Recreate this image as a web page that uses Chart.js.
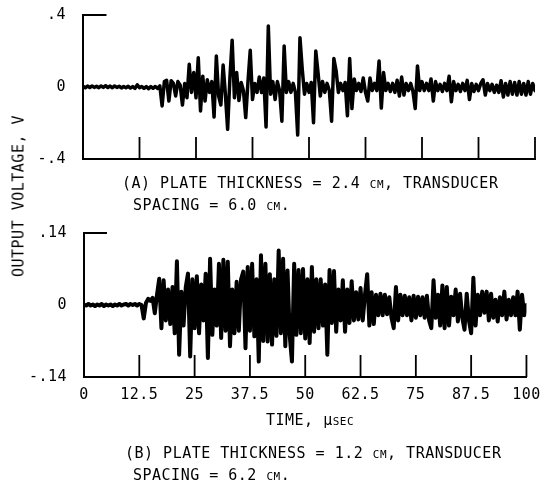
<!DOCTYPE html>
<html>
<head>
<meta charset="utf-8">
<script src="https://cdn.jsdelivr.net/npm/chart.js@4"></script>
<style>
html,body{margin:0;padding:0;background:#fff;}
#wrap{position:relative;width:549px;height:485px;overflow:hidden;background:#fff;}
canvas{position:absolute;left:0;top:0;}
.txt{position:absolute;font-family:"DejaVu Sans Mono",monospace;font-size:15px;line-height:15px;color:#000;white-space:nowrap;letter-spacing:0.5px;}
.sc{font-variant:small-caps;}
#ytitle{left:19px;top:196px;transform:translate(-50%,-50%) rotate(-90deg);}
#xtitle{left:310px;top:413px;transform:translateX(-50%);}
</style>
</head>
<body>
<div id="wrap">
<canvas id="cA" width="549" height="485"></canvas>
<canvas id="cB" width="549" height="485"></canvas>
<div class="txt" id="ytitle">OUTPUT VOLTAGE, V</div>
<div class="txt" style="left:122px;top:176px;">(A) PLATE THICKNESS = 2.4 <span class="sc">cm</span>, TRANSDUCER</div>
<div class="txt" style="left:133px;top:198px;">SPACING = 6.0 <span class="sc">cm</span>.</div>
<div class="txt" id="xtitle">TIME, µ<span class="sc">sec</span></div>
<div class="txt" style="left:125px;top:446px;">(B) PLATE THICKNESS = 1.2 <span class="sc">cm</span>, TRANSDUCER</div>
<div class="txt" style="left:133px;top:468px;">SPACING = 6.2 <span class="sc">cm</span>.</div>
</div>
<script>
// ---- data ----
const sampleStep = 0.5; // microseconds between samples
// Panel A: plate thickness 2.4 cm, output voltage (V)
const voltA = [
 0.004,-0.004,0.005,-0.003,0.006,-0.002,0.004,-0.004,0.006,-0.002,
 0.007,-0.003,0.005,-0.004,0.006,-0.002,0.004,-0.005,0.003,-0.004,
 0.004,-0.006,0.002,-0.008,0.012,-0.004,0.003,-0.008,0.002,-0.009,
 0.002,-0.007,0.003,-0.008,0.006,-0.105,0.030,0.037,-0.078,0.035,
 0.020,-0.050,0.030,0.010,-0.100,0.020,-0.060,0.126,-0.030,0.080,
 -0.060,0.163,-0.133,0.060,-0.078,0.040,-0.030,0.030,-0.167,0.172,
 -0.050,-0.100,0.122,-0.040,-0.235,0.050,0.260,-0.060,0.080,-0.075,
 0.025,-0.020,-0.170,0.030,0.204,-0.070,0.020,-0.030,0.055,-0.030,
 0.050,-0.222,0.339,-0.040,0.030,-0.070,0.030,-0.020,-0.190,0.228,
 -0.030,0.030,-0.030,0.020,-0.030,-0.267,0.274,0.100,-0.040,0.020,
 -0.030,0.025,-0.198,0.200,0.080,-0.050,0.030,-0.030,0.020,-0.020,
 -0.190,0.158,0.090,-0.030,0.020,-0.020,0.025,-0.160,0.158,-0.120,
 0.045,-0.020,0.020,-0.025,0.050,-0.030,-0.078,0.050,-0.020,0.020,
 -0.020,0.144,-0.117,0.080,-0.020,0.020,-0.025,0.020,-0.030,0.037,
 -0.050,0.055,-0.045,0.020,-0.020,0.020,-0.025,-0.119,0.117,-0.020,
 0.030,-0.020,0.020,-0.020,0.045,-0.078,0.030,-0.020,0.015,-0.025,
 0.020,-0.020,0.060,-0.082,0.030,-0.020,0.015,-0.025,0.020,-0.020,
 0.037,-0.070,0.020,-0.025,0.015,-0.020,0.020,0.040,-0.045,0.020,
 -0.020,0.015,-0.030,0.010,-0.030,0.035,-0.055,0.020,-0.045,0.030,
 -0.040,0.025,-0.045,0.030,-0.040,0.020,-0.045,0.030,-0.040,0.020,
 -0.020
];
// Panel B: plate thickness 1.2 cm, output voltage (V)
const voltB = [
 0.001,-0.001,0.002,-0.001,0.001,-0.002,0.001,-0.001,0.002,-0.002,
 0.001,-0.001,0.001,-0.002,0.001,-0.001,0.002,-0.001,0.001,0.002,
 -0.001,0.002,0.000,0.002,-0.001,0.002,0.000,-0.026,0.004,0.012,
 0.008,0.014,-0.016,0.020,0.051,-0.045,0.048,-0.030,0.030,-0.037,
 0.035,-0.055,0.085,-0.0965,0.026,-0.040,0.035,0.061,-0.100,0.050,
 -0.045,0.056,-0.055,0.040,-0.030,0.061,-0.103,0.090,-0.058,0.030,
 -0.040,0.080,-0.064,0.088,-0.050,0.084,-0.080,0.030,-0.055,0.045,
 -0.050,0.050,0.065,-0.084,0.074,-0.050,0.080,-0.061,0.050,-0.110,
 0.0965,-0.070,0.080,-0.071,0.060,-0.077,0.050,-0.060,0.106,-0.055,
 0.090,-0.080,0.067,-0.060,-0.110,0.080,-0.058,0.068,-0.055,0.070,
 -0.065,0.050,-0.074,0.074,-0.052,0.050,-0.045,0.050,-0.040,0.040,
 -0.0965,0.068,-0.035,0.066,-0.052,0.030,-0.030,0.048,-0.052,0.030,
 -0.035,0.046,-0.030,0.025,-0.028,0.033,-0.030,0.020,0.060,-0.040,
 0.025,-0.037,0.020,-0.020,0.022,-0.020,0.020,-0.018,0.015,-0.025,
 -0.045,0.035,-0.030,0.020,-0.020,0.018,-0.020,0.015,-0.030,0.018,
 -0.025,0.016,-0.020,0.015,-0.025,0.018,-0.030,-0.045,0.048,-0.025,
 0.020,-0.040,0.038,-0.045,0.035,-0.040,0.016,-0.020,0.030,-0.032,
 0.022,-0.025,-0.048,0.022,-0.030,-0.055,0.053,-0.040,0.020,-0.020,
 0.026,-0.015,0.026,-0.030,0.022,-0.025,0.010,-0.032,0.015,-0.020,
 0.026,-0.028,0.010,-0.020,0.015,-0.020,0.026,-0.048,0.020,-0.020,
 0.000
];
const xTickValues = [0, 12.5, 25, 37.5, 50, 62.5, 75, 87.5, 100];
const xTickLabels = ['0', '12.5', '25', '37.5', '50', '62.5', '75', '87.5', '100'];
const yTicksA = [-0.4, 0, 0.4];
const yLabelsA = ['-.4', '0', '.4'];
const yTicksB = [-0.14, 0, 0.14];
const yLabelsB = ['-.14', '0', '.14'];

// ---- drawing ----
Chart.defaults.color = '#000';
Chart.defaults.font.family = '"DejaVu Sans Mono", monospace';
Chart.defaults.font.size = 15;

const frameMarks = {
  id: 'frameMarks',
  beforeDraw(chart) { try { chart.ctx.letterSpacing = '0.5px'; } catch (e) {} },
  afterDatasetsDraw(chart, args, opts) {
    const {ctx, chartArea, scales} = chart;
    const x = scales.x, y = scales.y;
    ctx.save();
    ctx.strokeStyle = '#000';
    ctx.lineWidth = 1.8;
    ctx.beginPath();
    xTickValues.slice(1).forEach(t => {
      const px = x.getPixelForValue(t);
      ctx.moveTo(px, chartArea.bottom);
      ctx.lineTo(px, chartArea.bottom - opts.len);
    });
    ctx.stroke();
    ctx.lineWidth = 2;
    ctx.beginPath();
    const yTop = y.getPixelForValue(y.max);
    ctx.moveTo(x.getPixelForValue(0) - 1, yTop);
    ctx.lineTo(x.getPixelForValue(opts.stubEnd), yTop);
    ctx.stroke();
    ctx.restore();
  }
};

function makeChart(id, volts, yTicks, yLabels, ymax, pad, yWidth, xHeight, showXLabels, lw) {
  const pts = volts.map((v, i) => ({x: i * sampleStep, y: v}));
  return new Chart(document.getElementById(id), {
    type: 'line',
    data: { datasets: [{
      data: pts, borderColor: '#000', borderWidth: lw, pointRadius: 0,
      tension: 0, borderJoinStyle: 'round', borderCapStyle: 'round', fill: false
    }]},
    options: {
      responsive: false, animation: false, devicePixelRatio: 1,
      layout: { padding: pad },
      plugins: { legend: {display: false}, tooltip: {enabled: false}, title: {display: false},
                 frameMarks: { len: 22, stubEnd: 5.2 } },
      scales: {
        x: {
          type: 'linear', min: 0, max: 100,
          afterBuildTicks: s => { s.ticks = xTickValues.map(v => ({value: v})); },
          afterFit: s => { s.height = xHeight; },
          ticks: { display: showXLabels, autoSkip: false, maxRotation: 0, padding: 9,
                   callback: (v) => xTickLabels[xTickValues.indexOf(v)] },
          grid: { display: false, drawTicks: false },
          border: { display: true, color: '#000', width: 2 }
        },
        y: {
          min: -ymax, max: ymax,
          afterBuildTicks: s => { s.ticks = yTicks.map(v => ({value: v})); },
          afterFit: s => { s.width = yWidth; },
          ticks: { padding: 2, callback: (v) => yLabels[yTicks.indexOf(v)] },
          grid: { display: false, drawTicks: true, tickLength: 15 },
          border: { display: true, color: '#000', width: 2 }
        }
      }
    },
    plugins: [frameMarks]
  });
}

makeChart('cA', voltA, yTicksA, yLabelsA, 0.4, {left: 0, top: 15, right: 14, bottom: 326}, 83, 0, false, 3.5);
makeChart('cB', voltB, yTicksB, yLabelsB, 0.14, {left: 0, top: 233, right: 13, bottom: 0}, 84, 108, true, 4.0);
</script>
</body>
</html>
